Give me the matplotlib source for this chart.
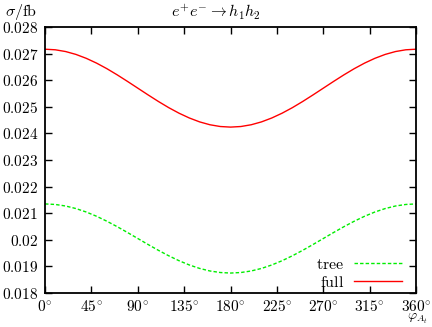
import matplotlib
matplotlib.use("Agg")
import matplotlib.pyplot as plt
import numpy as np

plt.rcParams['mathtext.fontset'] = 'cm'
plt.rcParams['font.family'] = 'DejaVu Serif'

phi = list(range(0, 361, 10))
full = [0.027170, 0.027148, 0.027082, 0.026974, 0.026827, 0.026647, 0.026438, 0.026206, 0.025959,
        0.025705, 0.025451, 0.025204, 0.024972, 0.024763, 0.024583, 0.024436, 0.024328, 0.024262,
        0.024240,
        0.024262, 0.024328, 0.024436, 0.024583, 0.024763, 0.024972, 0.025204, 0.025451, 0.025705,
        0.025959, 0.026206, 0.026438, 0.026647, 0.026827, 0.026974, 0.027082, 0.027148, 0.027170]
tree = [0.021350, 0.021330, 0.021272, 0.021176, 0.021046, 0.020886, 0.020700, 0.020495, 0.020276,
        0.020050, 0.019824, 0.019605, 0.019400, 0.019214, 0.019054, 0.018924, 0.018828, 0.018770,
        0.018750,
        0.018770, 0.018828, 0.018924, 0.019054, 0.019214, 0.019400, 0.019605, 0.019824, 0.020050,
        0.020276, 0.020495, 0.020700, 0.020886, 0.021046, 0.021176, 0.021272, 0.021330, 0.021350]

xticks = [0, 45, 90, 135, 180, 225, 270, 315, 360]
xticklabels = [r'$%d^{\!\circ}$' % v for v in xticks]
yticks = [0.018, 0.019, 0.020, 0.021, 0.022, 0.023, 0.024, 0.025, 0.026, 0.027, 0.028]
yticklabels = ['$0.018$', '$0.019$', '$0.02$', '$0.021$', '$0.022$', '$0.023$', '$0.024$',
               '$0.025$', '$0.026$', '$0.027$', '$0.028$']

fig = plt.figure(figsize=(4.32, 3.27), dpi=100)
ax = fig.add_axes([0.1042, 0.104, 0.859, 0.813])

ax.plot(phi, tree, color='#00ee00', lw=1.0, ls=(0, (2.5, 1.5)), label=r'$\mathrm{tree}$')
ax.plot(phi, full, color='#ff0000', lw=1.0, label=r'$\mathrm{full}$')

ax.set_xlim(0, 360)
ax.set_ylim(0.018, 0.028)
ax.set_xticks(xticks)
ax.set_xticklabels(xticklabels, fontsize=11)
ax.set_yticks(yticks)
ax.set_yticklabels(yticklabels, fontsize=11)
ax.tick_params(direction='in', length=5, width=1.0, top=True, right=True)
ax.tick_params(axis='x', pad=4)
ax.tick_params(axis='y', pad=5)
for s in ax.spines.values():
    s.set_linewidth(1.3)

leg = ax.legend(loc='lower right', markerfirst=False, frameon=False, fontsize=11.5,
                handlelength=3.0, handletextpad=0.6, labelspacing=0.05,
                bbox_to_anchor=(1.0, -0.045))

fig.text(0.5, 0.962, r'$e^{+}e^{-}\to h_1h_2$', ha='center', va='center', fontsize=11.5)
fig.text(0.012, 0.962, r'$\sigma/\mathrm{fb}$', ha='left', va='center', fontsize=11.5)
fig.text(0.99, 0.002, r'$\varphi_{A_t}$', ha='right', va='bottom', fontsize=10)

fig.savefig('out.png', dpi=100)
